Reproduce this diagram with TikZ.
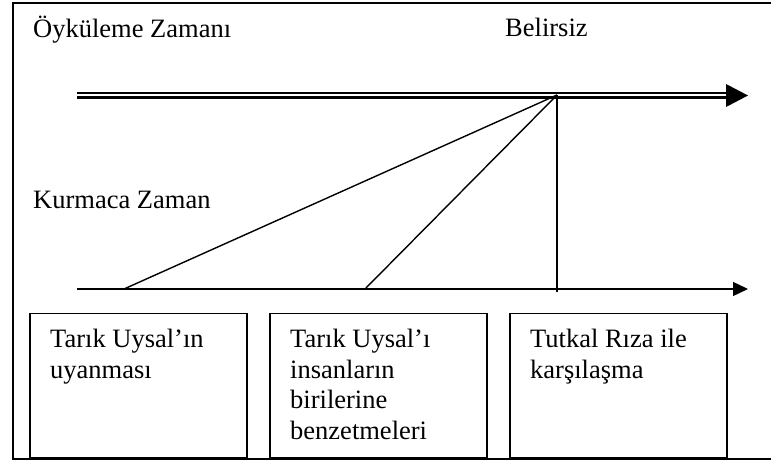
\documentclass[tikz,border=0pt]{standalone}
\usepackage{fontspec}
\setmainfont{Liberation Serif}
\usetikzlibrary{arrows.meta}
\begin{document}
\begin{tikzpicture}[x=1pt,y=-1pt,
  lbl/.style={inner sep=0pt, font=\fontsize{26.5}{30.7}\selectfont},
  evbox/.style={draw, line width=1.5pt, minimum width=217pt, minimum height=144pt, inner sep=0pt, anchor=north west},
  ln/.style={line width=1.4pt}]
\useasboundingbox (0,0) rectangle (771,462);
\fill[white] (0,0) rectangle (771,462);
% outer frame (right side lies beyond the picture)
\draw[line width=1.8pt] (800,2.7) -- (13.3,2.7) -- (13.3,459.3) -- (800,459.3);
% labels
\node[lbl, anchor=base west] (oz) at (33,38) {Öyküleme Zamanı};
\node[lbl, anchor=base west] (bel) at (505,37) {Belirsiz};
\node[lbl, anchor=base west] (kz) at (33,209) {Kurmaca Zaman};
% upper (double) time line
\coordinate (a1) at (77,93);
\coordinate (a2) at (726,93);
\coordinate (c1) at (77,97.5);
\coordinate (c2) at (726,97.5);
\coordinate (tip) at (748,95.5);
\draw[line width=1.3pt] (a1) -- (a2);
\draw[line width=3pt] (c1) -- (c2);
\fill (726,84) -- (tip) -- (726,107) -- cycle;
% lower time line
\coordinate (k1) at (77,289);
\coordinate (k2) at (748,289);
\draw[ln, -{Triangle[length=15pt,width=14pt]}] (k1) -- (k2);
% links
\coordinate (p) at (557,95);
\coordinate (q1) at (124,289);
\coordinate (q2) at (365,289);
\coordinate (q3) at (557,292);
\draw[ln] (p) -- (q1);
\draw[ln] (p) -- (q2);
\draw[ln] (p) -- (q3);
% event boxes
\node[evbox] (b1) at (29,313) {};
\node[evbox] (b2) at (269,313) {};
\node[evbox] (b3) at (509,313) {};
\node[lbl, anchor=north west, align=left] (t1) at (50,329) {Tarık Uysal’ın\\uyanması};
\node[lbl, anchor=north west, align=left] (t2) at (290,329) {Tarık Uysal’ı\\insanların\\birilerine\\benzetmeleri};
\node[lbl, anchor=north west, align=left] (t3) at (530,329) {Tutkal Rıza ile\\karşılaşma};
\end{tikzpicture}
\end{document}
